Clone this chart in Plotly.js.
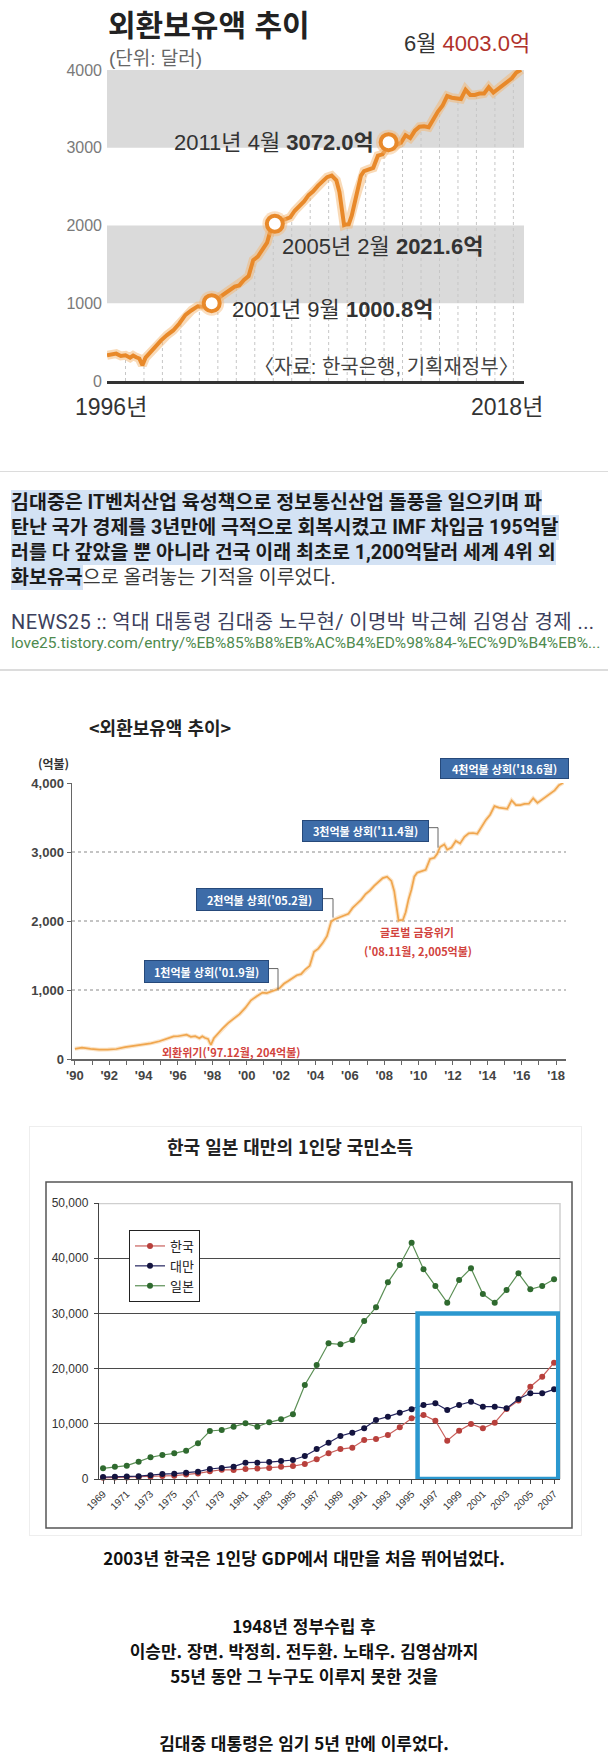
<!DOCTYPE html>
<html lang="ko">
<head>
<meta charset="utf-8">
<script src="https://cdn.plot.ly/plotly-3.0.1.min.js"></script>
<style>
html,body{margin:0;padding:0;background:#fff}
body{position:relative;width:608px;height:1760px;overflow:hidden;font-family:Roboto,"Noto Sans CJK KR",sans-serif}
.abs{position:absolute}
.card{left:0;width:608px;top:471px;height:197px;border-top:1.5px solid #dcdcdc;border-bottom:2px solid #dcdcdc}
.ln{position:absolute;left:11px;height:25px;line-height:25px;white-space:nowrap;font-size:19.5px;font-weight:700;color:#1b1b1b}
.hl{display:inline-block;height:25px;background:#d3e2f4}
.plain{font-weight:400;color:#3a3a3a}
.src{position:absolute;left:11px;white-space:nowrap}
.cap{position:absolute;left:0;width:608px;text-align:center;font-family:"Noto Sans CJK KR",sans-serif;font-weight:700;font-size:17px;line-height:24px;color:#111;white-space:nowrap}
</style>
</head>
<body>
<div id="c1" class="abs" style="left:0;top:0;width:608px;height:430px"></div>

<div class="abs card"></div>
<div class="ln" style="top:489.5px"><span class="hl">김대중은 IT벤처산업 육성책으로 정보통신산업 돌풍을 일으키며 파</span></div>
<div class="ln" style="top:514.5px"><span class="hl">탄난 국가 경제를 3년만에 극적으로 회복시켰고 IMF 차입금 195억달</span></div>
<div class="ln" style="top:539.5px"><span class="hl">러를 다 갚았을 뿐 아니라 건국 이래 최초로 1,200억달러 세계 4위 외</span></div>
<div class="ln" style="top:564.5px"><span class="hl">화보유국</span><span class="plain">으로 올려놓는 기적을 이루었다.</span></div>
<div class="src" style="top:610px;font-size:20px;letter-spacing:0.4px;line-height:25px;color:#3d3f5c">NEWS25 :: 역대 대통령 김대중 노무현/ 이명박 박근혜 김영삼 경제 ...</div>
<div class="src" style="top:634px;font-size:15.5px;line-height:18px;color:#4e8a4e">love25.tistory.com/entry/%EB%85%B8%EB%AC%B4%ED%98%84-%EC%9D%B4%EB%...</div>

<div id="c2" class="abs" style="left:0;top:700px;width:608px;height:400px"></div>

<div class="abs" style="left:29px;top:1126px;width:551px;height:408px;border:1px solid #eeeeee"></div>
<div id="c3" class="abs" style="left:0;top:1125px;width:608px;height:410px"></div>

<div class="cap" style="top:1546px">2003년 한국은 1인당 GDP에서 대만을 처음 뛰어넘었다.</div>
<div class="cap" style="top:1614px">1948년 정부수립 후</div>
<div class="cap" style="top:1639px">이승만. 장면. 박정희. 전두환. 노태우. 김영삼까지</div>
<div class="cap" style="top:1664px">55년 동안 그 누구도 이루지 못한 것을</div>
<div class="cap" style="top:1731px">김대중 대통령은 임기 5년 만에 이루었다.</div>

<script>
// ================= DATA =================
// Foreign exchange reserves (억 달러), 1996-2018 (shared by chart 1 and chart 2)
const reserveDates = ['1996-01','1996-04','1996-07','1996-10','1997-01','1997-04','1997-06','1997-08','1997-10','1997-11','1997-12','1998-02','1998-05','1998-08','1998-12','1999-04','1999-08','1999-12','2000-04','2000-08','2000-12','2001-03','2001-06','2001-09','2001-12','2002-03','2002-06','2002-09','2002-12','2003-03','2003-06','2003-09','2003-12','2004-03','2004-06','2004-09','2004-12','2005-02','2005-06','2005-09','2005-12','2006-03','2006-06','2006-09','2006-12','2007-03','2007-06','2007-09','2007-12','2008-03','2008-06','2008-08','2008-10','2008-11','2008-12','2009-02','2009-04','2009-06','2009-08','2009-10','2009-12','2010-03','2010-06','2010-09','2010-12','2011-02','2011-04','2011-07','2011-09','2011-12','2012-03','2012-06','2012-09','2012-12','2013-03','2013-06','2013-09','2013-12','2014-03','2014-06','2014-09','2014-12','2015-03','2015-06','2015-09','2015-12','2016-03','2016-06','2016-09','2016-12','2017-03','2017-06','2017-09','2017-12','2018-03','2018-06'];
const reserveValues = [330,345,352,322,330,300,328,305,290,244,204,300,370,440,520,590,650,740,850,910,962,955,975,1000.8,1028,1090,1130,1170,1214,1230,1300,1350,1554,1600,1680,1780,1991,2021.6,2060,2080,2104,2190,2250,2310,2390,2440,2510,2570,2622,2642,2581,2432,2122,2005,2012,2015,2127,2317,2454,2642,2700,2723,2742,2898,2915,2975,3072,3110,3034,3064,3160,3124,3220,3270,3275,3264,3369,3465,3540,3665,3644,3636,3627,3747,3680,3680,3698,3699,3778,3711,3758,3806,3846,3893,3967,4003];
// 1990-1995 part (chart 2 only)
const earlyDates = ['1990-01','1990-06','1990-12','1991-06','1991-12','1992-06','1992-12','1993-06','1993-12','1994-06','1994-12','1995-06','1995-10'];
const earlyValues = [148,164,148,135,137,145,171,190,203,227,257,300,327];
// Chart 1 milestones
const milestoneDates = ['2001-09','2005-02','2011-04','2018-06'];
const milestoneValues = [1000.8, 2021.6, 3072.0, 4003.0];
const chart1YTicks = [0,1000,2000,3000,4000];
const chart1DropYears = [1997,1998,1999,2000,2001,2002,2003,2004,2005,2006,2007,2008,2009,2010,2011,2012,2013,2014,2015,2016,2017,2018];
// Chart 2 axis
const chart2YTicks = [0,1000,2000,3000,4000];
const chart2XTickDates = ['1990-01-01','1992-01-01','1994-01-01','1996-01-01','1998-01-01','2000-01-01','2002-01-01','2004-01-01','2006-01-01','2008-01-01','2010-01-01','2012-01-01','2014-01-01','2016-01-01','2018-01-01'];
const chart2XTickLabels = ["'90","'92","'94","'96","'98","'00","'02","'04","'06","'08","'10","'12","'14","'16","'18"];
// Chart 3: per-capita income (USD)
const gdpYears = [1969,1970,1971,1972,1973,1974,1975,1976,1977,1978,1979,1980,1981,1982,1983,1984,1985,1986,1987,1988,1989,1990,1991,1992,1993,1994,1995,1996,1997,1998,1999,2000,2001,2002,2003,2004,2005,2006,2007];
const korea  = [210,255,290,320,400,540,600,800,1010,1390,1680,1650,1800,1880,2010,2200,2350,2720,3560,4650,5430,5670,7070,7250,7970,9360,11000,11600,10570,6940,8750,9960,9180,10200,12700,14200,16720,18530,21070];
const taiwan = [350,400,450,520,700,900,960,1150,1320,1810,1990,2230,2950,2950,3070,3250,3440,4170,5430,6580,7790,8390,9180,10690,11290,12010,12630,13400,13710,12500,13400,14000,13100,13100,12800,14490,15520,15520,16240];
const japan  = [1930,2230,2420,3140,3930,4350,4650,5130,6460,8700,8880,9480,10090,9480,10270,10810,11720,17030,20650,24580,24400,25180,28620,31100,35630,38770,42800,37990,34960,31940,36050,38170,33510,31940,34240,37260,34360,34960,36180];
const gdpXTickYears = [1969,1971,1973,1975,1977,1979,1981,1983,1985,1987,1989,1991,1993,1995,1997,1999,2001,2003,2005,2007];
const gdpYTicks = [0,10000,20000,30000,40000,50000];
const seriesNames = ['한국','대만','일본'];

// ================= HELPERS =================
const NARROW = '"Liberation Sans Narrow", "Liberation Sans", "Noto Sans CJK KR", sans-serif';
const CJK = '"Noto Sans CJK KR", sans-serif';
const SANS = '"Liberation Sans", "Noto Sans CJK KR", sans-serif';
function mk(C){ return function(x,y){ return {x:(x-C.l)/C.w, y:(C.t+C.h-y)/C.h}; }; }
function ann(P, x, y, text, opts){
  const p = P(x,y);
  return Object.assign({xref:'paper', yref:'paper', x:p.x, y:p.y, text:text, showarrow:false,
    xanchor:'center', yanchor:'middle', borderpad:0}, opts||{});
}
function interp(dates, vals, target){
  const t = new Date(target).getTime();
  for(let i=0;i<dates.length-1;i++){
    const a = new Date(dates[i]).getTime(), b = new Date(dates[i+1]).getTime();
    if(t>=a && t<=b){ return vals[i] + (vals[i+1]-vals[i])*(t-a)/(b-a); }
  }
  return vals[vals.length-1];
}
const cfg = {staticPlot:true, displayModeBar:false};

// ================= CHART 1 =================
(function(){
  const C = {l:107, t:70, w:417, h:311.5, H:430};
  const P = mk(C);
  const dropX = [], dropY = [];
  chart1DropYears.forEach(function(yr){
    const d = yr + '-01-01';
    dropX.push(d, d, null);
    dropY.push(0, interp(reserveDates, reserveValues, d), null);
  });
  const ORANGE = '#e8892a';
  const data = [
    {x:dropX, y:dropY, mode:'lines', line:{color:'#c6c6c6', width:1, dash:'dot'}, hoverinfo:'skip', cliponaxis:false},
    {x:reserveDates, y:reserveValues, mode:'lines', line:{color:'rgba(244,182,112,0.5)', width:9}, cliponaxis:false},
    {x:reserveDates, y:reserveValues, mode:'lines', line:{color:ORANGE, width:4}, cliponaxis:false},
    {x:milestoneDates, y:milestoneValues, mode:'markers', marker:{size:25, color:'rgba(245,185,120,0.45)'}, cliponaxis:false},
    {x:milestoneDates, y:milestoneValues, mode:'markers', cliponaxis:false,
      marker:{size:16, color:'#ffffff', line:{color:[ORANGE,ORANGE,ORANGE,'#a8322c'], width:4}}}
  ];
  const txt = {family:NARROW, size:22, color:'#333'};
  const layout = {
    width:608, height:C.H, margin:{l:C.l, r:608-C.l-C.w, t:C.t, b:C.H-C.t-C.h, pad:0},
    paper_bgcolor:'#ffffff', plot_bgcolor:'rgba(0,0,0,0)', showlegend:false,
    xaxis:{type:'date', range:['1996-01-01','2018-07-30'], showgrid:false, zeroline:false,
      showticklabels:false, ticks:'', showline:true, linecolor:'#333', linewidth:2.5},
    yaxis:{range:[0,4000], tickvals:chart1YTicks, showgrid:false, zeroline:false, showline:false,
      ticks:'', ticklabelstandoff:4, tickfont:{family:SANS, size:16, color:'#7a7a7a'}},
    shapes:[
      {type:'rect', xref:'paper', x0:0, x1:1, yref:'y', y0:1000, y1:2000, fillcolor:'#dadada', line:{width:0}, layer:'below'},
      {type:'rect', xref:'paper', x0:0, x1:1, yref:'y', y0:3000, y1:4000, fillcolor:'#dadada', line:{width:0}, layer:'below'}
    ],
    annotations:[
      ann(P, 107, 22.5, '<b>외환보유액 추이</b>', {xanchor:'left', font:{family:CJK, size:30, color:'#222'}}),
      ann(P, 108, 58.5, '(단위: 달러)', {xanchor:'left', font:{family:NARROW, size:19, color:'#666'}}),
      ann(P, 531, 43, '6월 <span style="color:#b0322c">4003.0억</span>', {xanchor:'right', font:txt}),
      ann(P, 375, 143, '2011년 4월 <b>3072.0억</b>', {xanchor:'right', font:txt}),
      ann(P, 281, 247, '2005년 2월 <b>2021.6억</b>', {xanchor:'left', font:txt}),
      ann(P, 231, 310, '2001년 9월 <b>1000.8억</b>', {xanchor:'left', font:txt}),
      ann(P, 520, 367, '〈자료: 한국은행, 기획재정부〉', {xanchor:'right', font:{family:NARROW, size:20, color:'#444'}}),
      ann(P, 111, 408, '1996년', {font:{family:NARROW, size:23, color:'#333'}}),
      ann(P, 507, 408, '2018년', {font:{family:NARROW, size:23, color:'#333'}})
    ]
  };
  Plotly.newPlot('c1', data, layout, cfg);
})();

// ================= CHART 2 =================
(function(){
  const TOP = 700;
  const C = {l:72, t:83.3, w:494, h:276.2, H:400};
  const P0 = mk(C);
  const P = function(x,y){ return P0(x, y-TOP); };
  const RED = '#d2433d';
  function box(x0,y0,x1,y1,text){
    const pad = 3;
    return ann(P, (x0+x1)/2, (y0+y1)/2, '<b>'+text+'</b>', {width:x1-x0-2*pad-1, height:y1-y0-2*pad-1,
      bgcolor:'#3d6ca8', bordercolor:'#26497a', borderwidth:1, borderpad:pad,
      font:{family:CJK, size:11, color:'#ffffff'}});
  }
  function conn(pts){
    let d = '';
    pts.forEach(function(q,i){ const p = P(q[0],q[1]); d += (i? ' L ':'M ') + p.x + ',' + p.y; });
    return {type:'path', xref:'paper', yref:'paper', path:d, line:{color:'#666', width:1}};
  }
  const allDates = earlyDates.concat(reserveDates);
  const allValues = earlyValues.concat(reserveValues);
  const data = [
    {x:allDates, y:allValues, mode:'lines', line:{color:'rgba(246,195,130,0.45)', width:4}, cliponaxis:false},
    {x:allDates, y:allValues, mode:'lines', line:{color:'#f0a64e', width:1.7}, cliponaxis:false}
  ];
  const layout = {
    width:608, height:C.H, margin:{l:C.l, r:608-C.l-C.w, t:C.t, b:C.H-C.t-C.h, pad:0},
    paper_bgcolor:'#ffffff', plot_bgcolor:'rgba(0,0,0,0)', showlegend:false,
    title:{text:'<b>&lt;외환보유액 추이&gt;</b>', font:{family:CJK, size:18, color:'#222'},
      xref:'container', x:89/608, xanchor:'left', yref:'container', y:1-(729-TOP)/C.H, yanchor:'middle'},
    xaxis:{type:'date', range:['1989-11-01','2018-07-30'], tickmode:'array', tickvals:chart2XTickDates, ticktext:chart2XTickLabels,
      ticks:'outside', ticklen:4, tickcolor:'#666', showline:true, linecolor:'#666', linewidth:1.5,
      showgrid:false, zeroline:false, tickangle:0,
      minor:{ticks:'outside', ticklen:4, dtick:'M12', tick0:'1990-01-01', tickcolor:'#666', showgrid:false},
      tickfont:{family:SANS, size:13, weight:'bold', color:'#444'}},
    yaxis:{range:[0,4000], tickvals:chart2YTicks, tickformat:',', ticks:'outside', ticklen:4, tickcolor:'#666',
      showline:true, linecolor:'#666', linewidth:1.5, showgrid:true, gridcolor:'#c4c4c4', gridwidth:1.5, griddash:'dot',
      zeroline:false, tickfont:{family:SANS, size:13, weight:'bold', color:'#444'}},
    shapes:[
      conn([[268,969],[278,969],[278,990]]),
      conn([[322,899],[333,899],[333,918]]),
      conn([[428,828],[438,828],[438,848]])
    ],
    annotations:[
      ann(P, 37, 764, '<b>(억불)</b>', {xanchor:'left', font:{family:CJK, size:12, color:'#333'}}),
      box(440,759,568,779,"4천억불 상회('18.6월)"),
      box(302,821,428,842,"3천억불 상회('11.4월)"),
      box(196,889,322,911,"2천억불 상회('05.2월)"),
      box(144,961,268,983,"1천억불 상회('01.9월)"),
      ann(P, 231, 1052, "<b>외환위기('97.12월, 204억불)</b>", {font:{family:CJK, size:11, color:RED}}),
      ann(P, 417, 932, '<b>글로벌 금융위기</b>', {font:{family:CJK, size:11, color:RED}}),
      ann(P, 418, 951, "<b>('08.11월, 2,005억불)</b>", {font:{family:CJK, size:11, color:RED}})
    ]
  };
  Plotly.newPlot('c2', data, layout, cfg);
})();

// ================= CHART 3 =================
(function(){
  const TOP = 1125;
  const C = {l:99, t:78, w:461, h:276, H:410};
  const P0 = mk(C);
  const P = function(x,y){ return P0(x, y-TOP); };
  const f0 = P(46,1182), f1 = P(572,1528);
  const colors = [
    {line:'#c9605c', mark:'#b8403c'},
    {line:'#23235e', mark:'#14143f'},
    {line:'#5b8f55', mark:'#2f6a2f'}
  ];
  const series = [korea, taiwan, japan];
  const data = series.map(function(vals,i){
    return {x:gdpYears, y:vals, name:seriesNames[i], mode:'lines+markers', cliponaxis:false,
      line:{color:colors[i].line, width:1.2}, marker:{size:6, color:colors[i].mark}};
  });
  const layout = {
    width:608, height:C.H, margin:{l:C.l, r:608-C.l-C.w, t:C.t, b:C.H-C.t-C.h, pad:0},
    paper_bgcolor:'rgba(0,0,0,0)', plot_bgcolor:'rgba(0,0,0,0)',
    title:{text:'<b>한국 일본 대만의 1인당 국민소득</b>', font:{family:CJK, size:18, color:'#222'},
      xref:'container', x:290/608, xanchor:'center', yref:'container', y:1-(1148-TOP)/C.H, yanchor:'middle'},
    showlegend:true,
    legend:{x:(129-C.l)/C.w, y:(C.t+C.h-(1230-TOP))/C.h, xanchor:'left', yanchor:'top', bgcolor:'#ffffff',
      bordercolor:'#222', borderwidth:1, font:{family:CJK, size:13, color:'#222'}, itemwidth:30, tracegroupgap:0, traceorder:'normal'},
    xaxis:{range:[1968.66, 2007.5], tickmode:'array', tickvals:gdpXTickYears, tickangle:-45,
      ticks:'outside', ticklen:4, tickcolor:'#444', showline:true, linecolor:'#444', linewidth:1.2,
      minor:{ticks:'outside', ticklen:4, dtick:1, tick0:1969, tickcolor:'#444', showgrid:false},
      showgrid:false, zeroline:false, tickfont:{family:SANS, size:10, color:'#333'}},
    yaxis:{range:[0,50000], tickvals:gdpYTicks, tickformat:',', ticks:'outside', ticklen:4, tickcolor:'#444',
      showline:true, linecolor:'#444', linewidth:1.2, showgrid:true, gridcolor:'#4a4a4a', gridwidth:1.2,
      zeroline:false, ticklabelstandoff:3, tickfont:{family:SANS, size:12, color:'#333'}},
    shapes:[
      {type:'rect', xref:'paper', yref:'paper', x0:f0.x, y0:f0.y, x1:f1.x, y1:f1.y, line:{color:'#555', width:1.5}, layer:'below'},
      {type:'line', xref:'paper', x0:0, x1:1, yref:'y', y0:50000, y1:50000, line:{color:'#cfcfcf', width:2.5}, layer:'above'},
      {type:'line', xref:'paper', x0:1, x1:1, yref:'y', y0:0, y1:50000, line:{color:'#cfcfcf', width:1.5}, layer:'below'},
      {type:'rect', xref:'x', yref:'y', x0:1995.5, x1:2007.35, y0:0, y1:30000, line:{color:'#2b98cf', width:4.5}, layer:'above'}
    ]
  };
  Plotly.newPlot('c3', data, layout, cfg);
})();
</script>
</body>
</html>
